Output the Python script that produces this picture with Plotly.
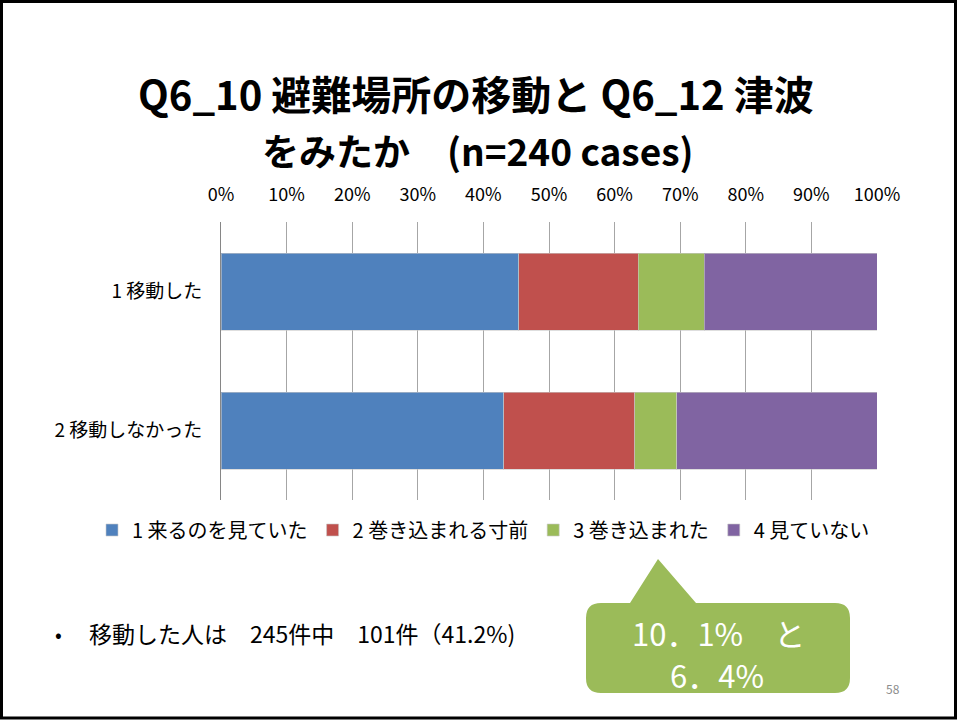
import plotly.graph_objects as go

# ---- data ----
categories = ["1 移動した", "2 移動しなかった"]
series_names = ["1 来るのを見ていた", "2 巻き込まれる寸前", "3 巻き込まれた", "4 見ていない"]
series_values = [
    [45.4, 43.1],   # 1 来るのを見ていた
    [18.2, 20.0],   # 2 巻き込まれる寸前
    [10.1, 6.4],    # 3 巻き込まれた
    [26.3, 30.5],   # 4 見ていない
]
series_colors = ["#4F81BD", "#C0504D", "#9BBB59", "#8064A2"]
tick_values = [0, 10, 20, 30, 40, 50, 60, 70, 80, 90, 100]
tick_labels = [f"{v}%" for v in tick_values]

title_line1 = "Q6_10 避難場所の移動と Q6_12 津波"
title_line2 = "をみたか　(n=240 cases)"
bullet_text = "移動した人は　245件中　101件（41.2%)"
callout_line1 = "10．1%　と"
callout_line2 = "6．4%"
page_number = "58"

W, H = 957, 720
def fx(p):
    return p / W
def fy(p):
    return 1 - p / H

JP = "Noto Sans CJK JP"

fig = go.Figure()
for name, vals, col in zip(series_names, series_values, series_colors):
    fig.add_trace(go.Bar(
        y=categories, x=vals, name=name, orientation="h",
        marker=dict(color=col, line=dict(color="rgba(200,200,200,0.6)", width=1)),
        hoverinfo="x+name",
    ))

fig.update_layout(
    width=W, height=H,
    margin=dict(l=0, r=0, t=0, b=0, autoexpand=False),
    paper_bgcolor="white", plot_bgcolor="white",
    barmode="stack", bargap=0.446,
    font=dict(family=JP, color="#000000", size=16),
    showlegend=True,
    legend=dict(
        orientation="h", x=fx(92), y=fy(530), xanchor="left", yanchor="middle",
        font=dict(family=JP, size=20, color="#000000"),
        traceorder="normal", itemwidth=30, bgcolor="rgba(0,0,0,0)",
    ),
    xaxis=dict(
        domain=[fx(221), fx(877)], range=[0, 100], side="top",
        tickvals=tick_values, ticktext=tick_labels,
        showgrid=True, gridcolor="#A6A6A6", gridwidth=1,
        zeroline=False, showline=False, ticks="", ticklabelstandoff=16,
        tickfont=dict(family=JP, size=18, color="#000000"),
        fixedrange=True, automargin=False,
    ),
    yaxis=dict(
        domain=[fy(500), fy(222)], autorange="reversed",
        showline=True, linecolor="#868686", linewidth=1,
        showgrid=False, ticks="", ticklabelstandoff=14,
        tickfont=dict(family=JP, size=19, color="#000000"),
        fixedrange=True, automargin=False,
    ),
)

# titles
fig.add_annotation(text=f"<b>{title_line1}</b>", x=fx(476), y=fy(93), xref="paper", yref="paper",
                   showarrow=False, xanchor="center", yanchor="middle",
                   font=dict(family=JP, size=40, color="#000000"))
fig.add_annotation(text=f"<b>{title_line2}</b>", x=fx(477), y=fy(150), xref="paper", yref="paper",
                   showarrow=False, xanchor="center", yanchor="middle",
                   font=dict(family=JP, size=37, color="#000000"))

# bullet
fig.add_annotation(text="•", x=fx(58), y=fy(633), xref="paper", yref="paper",
                   showarrow=False, xanchor="center", yanchor="middle",
                   font=dict(family=JP, size=20, color="#000000"))
fig.add_annotation(text=bullet_text, x=fx(87), y=fy(633), xref="paper", yref="paper",
                   showarrow=False, xanchor="left", yanchor="middle",
                   font=dict(family=JP, size=23, color="#000000"))

# callout shape (rounded rect with pointer)
x0, x1, y0, y1, r = 586, 850, 603, 693, 15
tb0, tb1, ax, ay = 630, 696, 658, 559
pts = [
    f"M {fx(x0 + r)},{fy(y0)}",
    f"L {fx(tb0)},{fy(y0)}",
    f"L {fx(ax)},{fy(ay)}",
    f"L {fx(tb1)},{fy(y0)}",
    f"L {fx(x1 - r)},{fy(y0)}",
    f"Q {fx(x1)},{fy(y0)} {fx(x1)},{fy(y0 + r)}",
    f"L {fx(x1)},{fy(y1 - r)}",
    f"Q {fx(x1)},{fy(y1)} {fx(x1 - r)},{fy(y1)}",
    f"L {fx(x0 + r)},{fy(y1)}",
    f"Q {fx(x0)},{fy(y1)} {fx(x0)},{fy(y1 - r)}",
    f"L {fx(x0)},{fy(y0 + r)}",
    f"Q {fx(x0)},{fy(y0)} {fx(x0 + r)},{fy(y0)}",
    "Z",
]
fig.add_shape(type="path", path=" ".join(pts), xref="paper", yref="paper",
              fillcolor="#9BBB59", line=dict(width=0), layer="above")
fig.add_annotation(text=callout_line1, x=fx(718), y=fy(632), xref="paper", yref="paper",
                   showarrow=False, xanchor="center", yanchor="middle",
                   font=dict(family=JP, size=31, color="#FFFFFF"))
fig.add_annotation(text=callout_line2, x=fx(717), y=fy(674), xref="paper", yref="paper",
                   showarrow=False, xanchor="center", yanchor="middle",
                   font=dict(family=JP, size=31, color="#FFFFFF"))

# page number
fig.add_annotation(text=page_number, x=fx(893), y=fy(688), xref="paper", yref="paper",
                   showarrow=False, xanchor="center", yanchor="middle",
                   font=dict(family=JP, size=12, color="#8C8C8C"))

# slide border
fig.add_shape(type="rect", x0=fx(1.5), x1=fx(955.5), y0=fy(718), y1=fy(1.5),
              xref="paper", yref="paper", line=dict(color="#000000", width=3),
              fillcolor="rgba(0,0,0,0)", layer="above")

fig.write_html(
    "out.html",
    config={"displayModeBar": False},
    post_script="document.body.style.margin='0';document.body.style.overflow='hidden';",
)
